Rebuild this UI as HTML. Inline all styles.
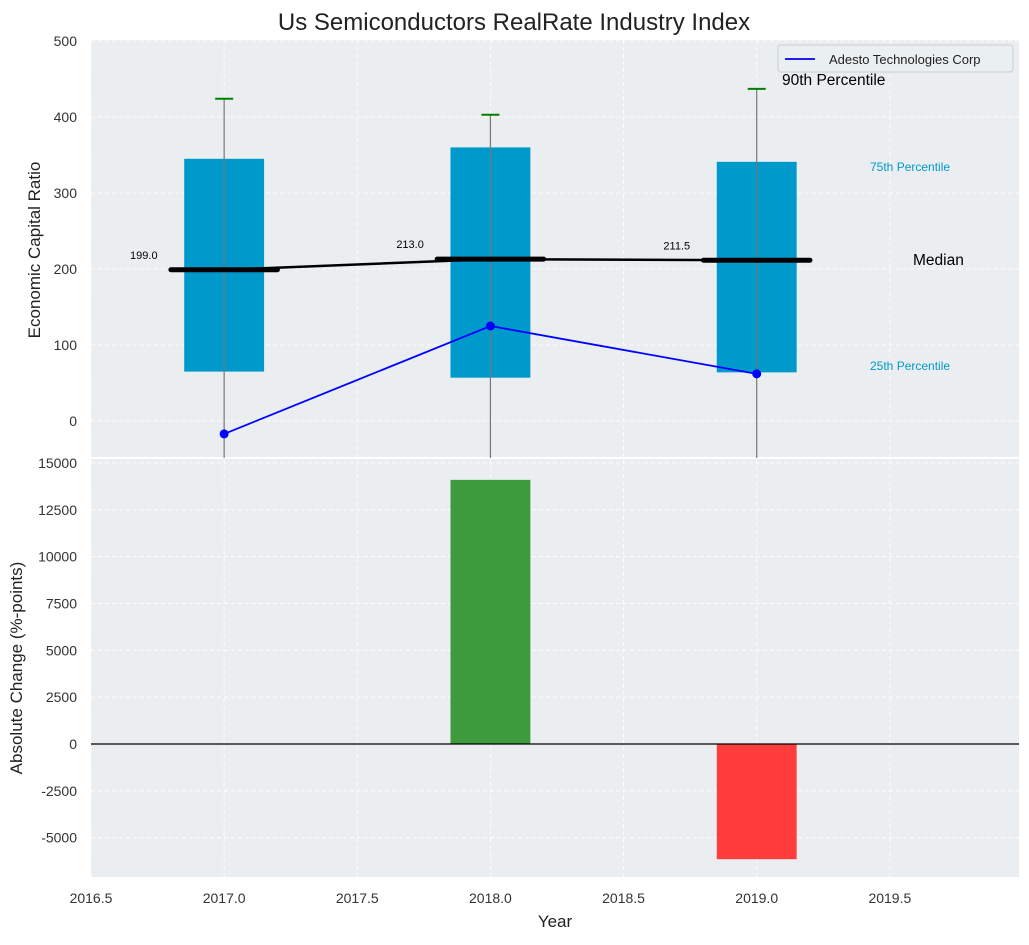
<!DOCTYPE html>
<html><head><meta charset="utf-8"><style>
body{margin:0;background:#fff;font-family:"Liberation Sans","DejaVu Sans",sans-serif}
svg text{font-family:"Liberation Sans","DejaVu Sans",sans-serif}
</style></head><body>
<svg id="c" width="1029" height="940" xmlns="http://www.w3.org/2000/svg"></svg>
<script>
const years=[2017,2018,2019];
const p25=[65,57,64];
const p75=[345,360,341];
const p90=[424,403,437];
const medians=[199,213,211.5];
const company=[-17,125,62];
const changes=[0,14100,-6150];
const topTicks=[0,100,200,300,400,500];
const botTicks=[-5000,-2500,0,2500,5000,7500,10000,12500,15000];
const xTicks=[2016.5,2017,2017.5,2018,2018.5,2019,2019.5];
const NS="http://www.w3.org/2000/svg";
const svg=document.getElementById('c');
const L=91,R=1019,T1=40,B1=458,T2=458,B2=877;
const X=v=>L+(v-2016.5)*(R-L)/(2019.985-2016.5);
const Y1=v=>421-v*0.76;
const Y2=v=>744-v*(744-463)/15000;
function el(t,a,txt){const e=document.createElementNS(NS,t);for(const k in a)e.setAttribute(k,a[k]);if(txt!=null)e.textContent=txt;svg.appendChild(e);return e;}
let e;
e=el('text',{x:514,y:30,'text-anchor':'middle','font-size':24,fill:'#222'},'Us Semiconductors RealRate Industry Index');

e=el('rect',{x:L,y:T1,width:R-L,height:B1-T1,fill:'#eaeef0'});

e=el('rect',{x:L,y:T2+1,width:R-L,height:B2-T2-1,fill:'#eaeef0'});

el('line',{x1:L,x2:R,y1:458,y2:458,stroke:'#fff','stroke-width':2});
xTicks.forEach(v=>{
 el('line',{x1:X(v),x2:X(v),y1:T1,y2:B2,stroke:'#fff','stroke-dasharray':'4,3','stroke-width':0.8});
 e=el('text',{x:X(v),y:903,'text-anchor':'middle','font-size':14,fill:'#333'},v.toFixed(1));
 
});
topTicks.forEach(v=>{
 el('line',{x1:L,x2:R,y1:Y1(v),y2:Y1(v),stroke:'#fff','stroke-dasharray':'4,3','stroke-width':0.8});
 e=el('text',{x:77,y:Y1(v)+5,'text-anchor':'end','font-size':14,fill:'#333'},v);
 
});
botTicks.forEach(v=>{
 el('line',{x1:L,x2:R,y1:Y2(v),y2:Y2(v),stroke:'#fff','stroke-dasharray':'4,3','stroke-width':0.8});
 e=el('text',{x:77,y:Y2(v)+5,'text-anchor':'end','font-size':14,fill:'#333'},v);
 
});
const hw=(X(2017.15)-X(2017));
years.forEach((y,i)=>{
 e=el('rect',{x:X(y)-hw,y:Y1(p75[i]),width:2*hw,height:Y1(p25[i])-Y1(p75[i]),fill:'#0099cc'});
 
 e=el('line',{x1:X(y),x2:X(y),y1:B1,y2:Y1(p90[i]),stroke:'#777','stroke-width':1.2});
 
 e=el('line',{x1:X(y)-9,x2:X(y)+9,y1:Y1(p90[i]),y2:Y1(p90[i]),stroke:'green','stroke-width':2});
 
 e=el('line',{x1:X(y-0.2),x2:X(y+0.2),y1:Y1(medians[i]),y2:Y1(medians[i]),stroke:'#000','stroke-width':5,'stroke-linecap':'round'});
 
 e=el('text',{x:X(y-0.25),y:Y1(medians[i])-11,'text-anchor':'end','font-size':11,fill:'#000'},medians[i].toFixed(1));
 
 if(changes[i]!==0){
  e=el('rect',{x:X(y)-hw,y:Math.min(Y2(0),Y2(changes[i])),width:2*hw,height:Math.abs(Y2(changes[i])-Y2(0)),fill:changes[i]>0?'#3d9b3d':'#ff3d3d'});
  
 }
});
e=el('polyline',{points:years.map((y,i)=>X(y)+','+Y1(medians[i])).join(' '),fill:'none',stroke:'#000','stroke-width':2.5});

e=el('polyline',{points:years.map((y,i)=>X(y)+','+Y1(company[i])).join(' '),fill:'none',stroke:'#0000ff','stroke-width':1.8});

years.forEach((y,i)=>{e=el('circle',{cx:X(y),cy:Y1(company[i]),r:4.5,fill:'#0000ff'});
 });
el('line',{x1:L,x2:R,y1:Y2(0),y2:Y2(0),stroke:'#000','stroke-width':1.2});
e=el('text',{x:782,y:85,'font-size':15.5,fill:'#000'},'90th Percentile');
e=el('text',{x:870,y:171,'font-size':12,fill:'#0099cc'},'75th Percentile');
e=el('text',{x:913,y:265,'font-size':15.5,fill:'#000'},'Median');
e=el('text',{x:870,y:370,'font-size':12,fill:'#0099cc'},'25th Percentile');
e=el('rect',{x:778,y:45,width:235,height:27,fill:'#eaeef0',stroke:'#ccc',rx:3,'fill-opacity':0.85});

el('line',{x1:785,x2:815,y1:59,y2:59,stroke:'#0000ff','stroke-width':1.8});
e=el('text',{x:829,y:64,'font-size':13,fill:'#222'},'Adesto Technologies Corp');

e=el('text',{x:555,y:927,'text-anchor':'middle','font-size':17,fill:'#222'},'Year');

e=el('text',{x:0,y:0,'text-anchor':'middle','font-size':17,fill:'#222',transform:'translate(40,250) rotate(-90)'},'Economic Capital Ratio');

e=el('text',{x:0,y:0,'text-anchor':'middle','font-size':17,fill:'#222',transform:'translate(22,668) rotate(-90)'},'Absolute Change (%-points)');

</script>
</body></html>
